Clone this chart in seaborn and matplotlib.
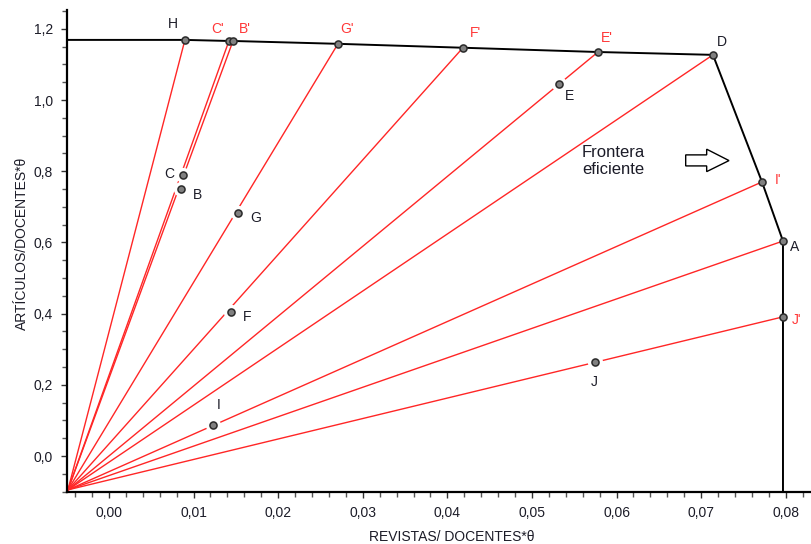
import matplotlib
matplotlib.use("Agg")
import matplotlib.pyplot as plt
from matplotlib.patches import Polygon
from matplotlib.ticker import MultipleLocator, FuncFormatter
import pandas as pd
import seaborn as sns

# Units projected onto the efficient frontier, in drawing order
front_names = ["H", "C'", "B'", "G'", "F'", "E'", "D", "I'", "A", "J'"]
front_x = [0.00898, 0.01418, 0.01466, 0.02707, 0.04184, 0.05780, 0.07139, 0.07719, 0.07967, 0.07967]
front_y = [1.169, 1.166, 1.166, 1.158, 1.147, 1.135, 1.127, 0.770, 0.604, 0.391]

# Inefficient units (lie inside the frontier)
ineff_names = ["C", "B", "G", "F", "E", "I", "J"]
ineff_x = [0.00875, 0.00851, 0.01525, 0.01442, 0.05319, 0.01229, 0.05745]
ineff_y = [0.790, 0.750, 0.683, 0.405, 1.046, 0.087, 0.264]

# Common origin of the radial projections
ray_origin = (-0.00485, -0.095)

x_lim = (-0.00496, 0.0831)
y_lim = (-0.101, 1.253)

RED = "#ff2626"
RED_TXT = "#ff3838"
INK = "#1c1c28"

sns.set_theme(style="ticks")
plt.rcParams["font.family"] = ["Liberation Sans", "DejaVu Sans"]

fig = plt.figure(figsize=(8.12, 5.44), dpi=100)
ax = fig.add_axes([67 / 812, 52 / 544, 745 / 812, 482 / 544])

# Radial lines from the origin to each frontier point
rays = pd.DataFrame(
    [(n, ray_origin[0], ray_origin[1]) for n in front_names]
    + [(n, x, y) for n, x, y in zip(front_names, front_x, front_y)],
    columns=["ray", "x", "y"],
)
sns.lineplot(data=rays, x="x", y="y", units="ray", estimator=None, sort=False,
             color=RED, linewidth=1.0, ax=ax, zorder=2)

# Efficient frontier (with free-disposal extensions to the axes)
frontier = pd.DataFrame({
    "x": [x_lim[0]] + front_x + [front_x[-1]],
    "y": [front_y[0]] + front_y + [y_lim[0]],
})
sns.lineplot(data=frontier, x="x", y="y", sort=False, estimator=None,
             color="black", linewidth=1.4, ax=ax, zorder=3)

# White halo behind inefficient units, then the markers
ineff = pd.DataFrame({"name": ineff_names, "x": ineff_x, "y": ineff_y})
front = pd.DataFrame({"name": front_names, "x": front_x, "y": front_y})
sns.scatterplot(data=ineff, x="x", y="y", s=120, color="white", linewidth=0,
                ax=ax, zorder=4)
for df in (ineff, front):
    sns.scatterplot(data=df, x="x", y="y", s=26, color="#808080",
                    edgecolor="#2a2a2a", linewidth=1.1, ax=ax, zorder=5)

# Point labels
front_offsets = {"H": (-12, 16), "C'": (-11, 12), "B'": (12, 12), "G'": (9, 15),
                 "F'": (13, 15), "E'": (9, 14), "D": (9, 13), "I'": (16, 2),
                 "A": (12, -6), "J'": (14, -3)}
ineff_offsets = {"C": (-14, 1), "B": (17, -6), "G": (18, -5), "F": (16, -5),
                 "E": (11, -12), "I": (6, 20), "J": (-1, -20)}
for n, x, y in zip(front_names, front_x, front_y):
    col = INK if n in ("H", "D", "A") else RED_TXT
    ax.annotate(n, (x, y), xytext=front_offsets[n], textcoords="offset pixels",
                ha="center", va="center", fontsize=10, color=col, zorder=6)
for n, x, y in zip(ineff_names, ineff_x, ineff_y):
    ax.annotate(n, (x, y), xytext=ineff_offsets[n], textcoords="offset pixels",
                ha="center", va="center", fontsize=10, color=INK, zorder=6)

# "Frontera eficiente" note with hollow block arrow
ax.text(0.0559, 0.829, "Frontera\neficiente", ha="left", va="center",
        fontsize=12, color=INK, linespacing=1.2)
arrow = Polygon([(0.06817, 0.846), (0.07065, 0.846), (0.07065, 0.862),
                 (0.07329, 0.830), (0.07065, 0.799), (0.07065, 0.815),
                 (0.06817, 0.815)], closed=True, facecolor="white",
                edgecolor="black", linewidth=1.0, zorder=6)
ax.add_patch(arrow)

# Axes styling
ax.set_xlim(*x_lim)
ax.set_ylim(*y_lim)
sns.despine(ax=ax)
for s in ("left", "bottom"):
    ax.spines[s].set_color("black")
    ax.spines[s].set_linewidth(1.6)

ax.xaxis.set_major_locator(MultipleLocator(0.01))
ax.xaxis.set_minor_locator(MultipleLocator(0.002))
ax.yaxis.set_major_locator(MultipleLocator(0.2))
ax.yaxis.set_minor_locator(MultipleLocator(0.05))
ax.xaxis.set_major_formatter(FuncFormatter(lambda v, p: f"{v:.2f}".replace(".", ",")))
ax.yaxis.set_major_formatter(FuncFormatter(lambda v, p: f"{v:.1f}".replace(".", ",")))
ax.tick_params(which="major", direction="out", length=4, width=1, color="#333333",
               labelsize=10, labelcolor=INK, pad=6)
ax.tick_params(which="minor", direction="out", length=3.5, width=1, color="#555555")

ax.set_xlabel("REVISTAS/ DOCENTES*θ", fontsize=10, color=INK)
ax.set_ylabel("ARTÍCULOS/DOCENTES*θ", fontsize=10, color=INK)
ax.xaxis.set_label_coords(0.517, -0.079)
ax.yaxis.set_label_coords(-0.051, 0.515)

fig.savefig("out.png", dpi=100, facecolor="white")
